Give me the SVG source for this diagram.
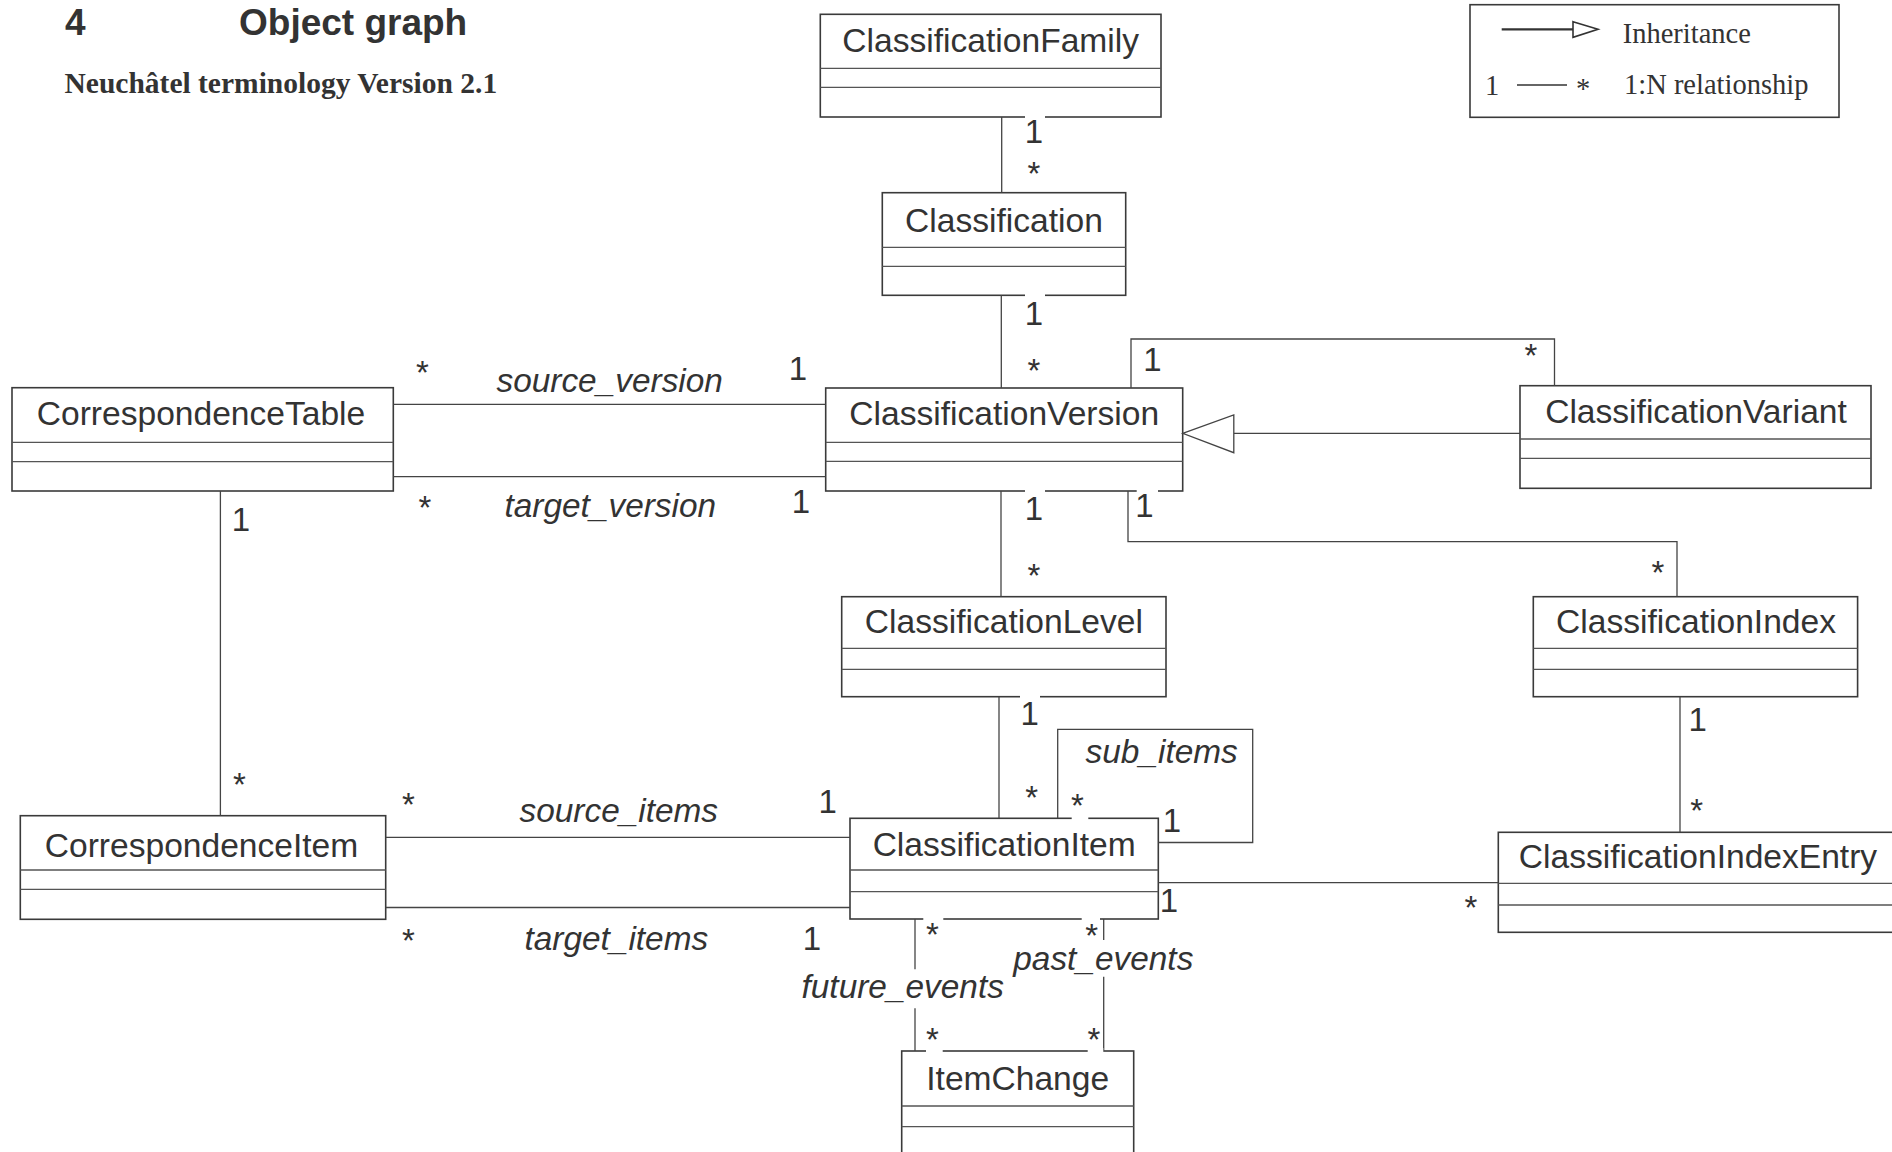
<svg xmlns="http://www.w3.org/2000/svg" width="1892" height="1152" viewBox="0 0 1892 1152">
<style>
.bg{fill:#fff}
.box{fill:#fff;stroke:#3a3a3a;stroke-width:1.6}
.div{stroke:#555;stroke-width:1.3}
.ln{fill:none;stroke:#444;stroke-width:1.3}
.nm{font-family:"Liberation Sans",Arial,sans-serif;font-size:33.6px;fill:#333;text-anchor:middle}
.it{font-family:"Liberation Sans",Arial,sans-serif;font-size:33.4px;font-style:italic;fill:#333;text-anchor:middle}
.m{font-family:"Liberation Sans",Arial,sans-serif;font-size:33px;fill:#333;text-anchor:middle}
.gap{fill:#fff}
.lg{font-family:"Liberation Serif","Times New Roman",serif;font-size:28.5px;fill:#333}
</style>
<rect class="bg" x="0" y="0" width="1892" height="1152"/>

<g id="title">
<text x="65" y="35" style="font-family:'Liberation Sans',Arial,sans-serif;font-size:37px;font-weight:bold;fill:#333">4</text>
<text x="239" y="35" style="font-family:'Liberation Sans',Arial,sans-serif;font-size:37px;font-weight:bold;fill:#333">Object graph</text>
<text x="64.5" y="93" style="font-family:'Liberation Serif','Times New Roman',serif;font-size:29.5px;font-weight:bold;fill:#333">Neuchâtel terminology Version 2.1</text>
</g>

<g id="legend">
<rect x="1470" y="4.7" width="369" height="112.6" fill="#fff" stroke="#3a3a3a" stroke-width="1.6"/>
<line x1="1501.7" y1="29.3" x2="1573" y2="29.3" stroke="#333" stroke-width="2.2"/>
<polygon points="1573,21.7 1598,29.3 1573,37.3" fill="#fff" stroke="#333" stroke-width="1.6"/>
<text class="lg" x="1622.7" y="43.3">Inheritance</text>
<text class="lg" x="1485" y="95">1</text>
<line x1="1517" y1="85" x2="1567" y2="85" stroke="#333" stroke-width="1.6"/>
<text class="lg" x="1583" y="98" text-anchor="middle">*</text>
<text class="lg" x="1624" y="94">1:N relationship</text>
</g>

<g id="nodes">
<g id="ClassificationFamily">
<rect class="box" x="820.3" y="14.3" width="340.7" height="102.7"/>
<line class="div" x1="820.3" y1="68.3" x2="1161" y2="68.3"/>
<line class="div" x1="820.3" y1="87.3" x2="1161" y2="87.3"/>
<text class="nm" x="990.7" y="52">ClassificationFamily</text>
</g>
<g id="Classification">
<rect class="box" x="882.3" y="192.7" width="243.4" height="102.6"/>
<line class="div" x1="882.3" y1="247.3" x2="1125.7" y2="247.3"/>
<line class="div" x1="882.3" y1="266.3" x2="1125.7" y2="266.3"/>
<text class="nm" x="1004" y="232">Classification</text>
</g>
<g id="ClassificationVersion">
<rect class="box" x="825.7" y="388" width="357" height="103"/>
<line class="div" x1="825.7" y1="442.3" x2="1182.7" y2="442.3"/>
<line class="div" x1="825.7" y1="461.3" x2="1182.7" y2="461.3"/>
<text class="nm" x="1004.2" y="425">ClassificationVersion</text>
</g>
<g id="ClassificationVariant">
<rect class="box" x="1520" y="385.7" width="351" height="102.6"/>
<line class="div" x1="1520" y1="439" x2="1871" y2="439"/>
<line class="div" x1="1520" y1="458.3" x2="1871" y2="458.3"/>
<text class="nm" x="1696" y="422.5">ClassificationVariant</text>
</g>
<g id="CorrespondenceTable">
<rect class="box" x="12" y="387.7" width="381.3" height="103.3"/>
<line class="div" x1="12" y1="442.3" x2="393.3" y2="442.3"/>
<line class="div" x1="12" y1="461.7" x2="393.3" y2="461.7"/>
<text class="nm" x="201" y="424.5">CorrespondenceTable</text>
</g>
<g id="ClassificationLevel">
<rect class="box" x="841.7" y="596.7" width="324.3" height="100"/>
<line class="div" x1="841.7" y1="648.3" x2="1166" y2="648.3"/>
<line class="div" x1="841.7" y1="669.3" x2="1166" y2="669.3"/>
<text class="nm" x="1003.9" y="633.3">ClassificationLevel</text>
</g>
<g id="ClassificationIndex">
<rect class="box" x="1533.3" y="596.7" width="324.3" height="100"/>
<line class="div" x1="1533.3" y1="648.3" x2="1857.6" y2="648.3"/>
<line class="div" x1="1533.3" y1="669.3" x2="1857.6" y2="669.3"/>
<text class="nm" x="1696" y="633.3">ClassificationIndex</text>
</g>
<g id="CorrespondenceItem">
<rect class="box" x="20.3" y="815.7" width="365.4" height="103.6"/>
<line class="div" x1="20.3" y1="870" x2="385.7" y2="870"/>
<line class="div" x1="20.3" y1="889.3" x2="385.7" y2="889.3"/>
<text class="nm" x="201.5" y="856.7">CorrespondenceItem</text>
</g>
<g id="ClassificationItem">
<rect class="box" x="850" y="818.3" width="308.3" height="100.7"/>
<line class="div" x1="850" y1="870" x2="1158.3" y2="870"/>
<line class="div" x1="850" y1="891.7" x2="1158.3" y2="891.7"/>
<text class="nm" x="1004.2" y="856">ClassificationItem</text>
</g>
<g id="ClassificationIndexEntry">
<rect class="box" x="1498.3" y="832.3" width="399.4" height="100"/>
<line class="div" x1="1498.3" y1="883.3" x2="1897.7" y2="883.3"/>
<line class="div" x1="1498.3" y1="905" x2="1897.7" y2="905"/>
<text class="nm" x="1698" y="867.5">ClassificationIndexEntry</text>
</g>
<g id="ItemChange">
<rect class="box" x="901.7" y="1051" width="232" height="112"/>
<line class="div" x1="901.7" y1="1106" x2="1133.7" y2="1106"/>
<line class="div" x1="901.7" y1="1126.7" x2="1133.7" y2="1126.7"/>
<text class="nm" x="1017.7" y="1090">ItemChange</text>
</g>
</g>

<g id="connectors">
<line class="ln" x1="1001.7" y1="117" x2="1001.7" y2="192.7"/>
<line class="ln" x1="1001.3" y1="295.3" x2="1001.3" y2="388"/>
<line class="ln" x1="1001" y1="491" x2="1001" y2="596.7"/>
<line class="ln" x1="999" y1="696.7" x2="999" y2="818.3"/>
<path class="ln" d="M1131,388 V339 H1554.5 V385.7"/>
<line class="ln" x1="1520" y1="433.3" x2="1233.8" y2="433.3"/>
<polygon points="1182.7,433.3 1233.8,415 1233.8,452.7" fill="#fff" stroke="#444" stroke-width="1.3"/>
<path class="ln" d="M1128,491 V541.7 H1677 V596.7"/>
<line class="ln" x1="1680" y1="696.7" x2="1680" y2="832.3"/>
<line class="ln" x1="393.3" y1="404.3" x2="825.7" y2="404.3"/>
<line class="ln" x1="393.3" y1="476.7" x2="825.7" y2="476.7"/>
<line class="ln" x1="220.4" y1="491" x2="220.4" y2="815.7"/>
<line class="ln" x1="385.7" y1="837.3" x2="850" y2="837.3"/>
<line class="ln" x1="385.7" y1="907.5" x2="850" y2="907.5"/>
<line class="ln" x1="1158.3" y1="882.7" x2="1498.3" y2="882.7"/>
<path class="ln" d="M1057.7,818.3 V729.3 H1252.7 V842.5 H1158.3"/>
<line class="ln" x1="915" y1="919" x2="915" y2="969.3"/>
<line class="ln" x1="915" y1="1008.3" x2="915" y2="1051"/>
<line class="ln" x1="1103.7" y1="919" x2="1103.7" y2="940"/>
<line class="ln" x1="1103.7" y1="976.7" x2="1103.7" y2="1051"/>

<rect class="gap" x="1025" y="114" width="20" height="6"/>
<rect class="gap" x="1025" y="292.3" width="20" height="6"/>
<rect class="gap" x="1025" y="488" width="20" height="6"/>
<rect class="gap" x="1136.7" y="488" width="21.3" height="6"/>
<rect class="gap" x="1020" y="693.7" width="20" height="6"/>
<rect class="gap" x="1071.7" y="815.3" width="16.6" height="6"/>
<rect class="gap" x="923.3" y="916" width="20" height="6"/>
<rect class="gap" x="1081.7" y="916" width="18.3" height="6"/>
<rect class="gap" x="926" y="1048" width="16.7" height="6"/>
<rect class="gap" x="1087.7" y="1048" width="15.6" height="6"/>

<text class="m" x="1034" y="143">1</text>
<text class="m" x="1034" y="184.7">*</text>
<text class="m" x="1034" y="325.3">1</text>
<text class="m" x="1034" y="382">*</text>
<text class="m" x="1152.5" y="371">1</text>
<text class="m" x="1530.8" y="367.3">*</text>
<text class="m" x="1034" y="520">1</text>
<text class="m" x="1034" y="587">*</text>
<text class="m" x="1144.5" y="516.7">1</text>
<text class="m" x="1658" y="584">*</text>
<text class="m" x="422.4" y="384">*</text>
<text class="m" x="798" y="380">1</text>
<text class="it" x="609.7" y="391.7">source_version</text>
<text class="m" x="425" y="519">*</text>
<text class="m" x="801" y="513.3">1</text>
<text class="it" x="610.3" y="516.7">target_version</text>
<text class="m" x="241" y="530.7">1</text>
<text class="m" x="239.3" y="795.7">*</text>
<text class="m" x="408.3" y="815.7">*</text>
<text class="m" x="827.7" y="812.7">1</text>
<text class="it" x="618.8" y="821.7">source_items</text>
<text class="m" x="408.3" y="952">*</text>
<text class="m" x="812" y="950">1</text>
<text class="it" x="616.3" y="950">target_items</text>
<text class="m" x="1029.7" y="725">1</text>
<text class="m" x="1031.7" y="809">*</text>
<text class="m" x="1077.3" y="817">*</text>
<text class="m" x="1172" y="831.7">1</text>
<text class="it" x="1161.7" y="763.3">sub_items</text>
<text class="m" x="1169" y="911.7">1</text>
<text class="m" x="1470.9" y="919">*</text>
<text class="m" x="1697.6" y="730.7">1</text>
<text class="m" x="1696.6" y="822">*</text>
<text class="m" x="932.3" y="945.7">*</text>
<text class="m" x="932.3" y="1050.7">*</text>
<text class="it" x="902.7" y="997.7">future_events</text>
<text class="m" x="1091.7" y="947">*</text>
<text class="m" x="1094" y="1050.7">*</text>
<text class="it" x="1103.3" y="970">past_events</text>
</g>
</svg>
